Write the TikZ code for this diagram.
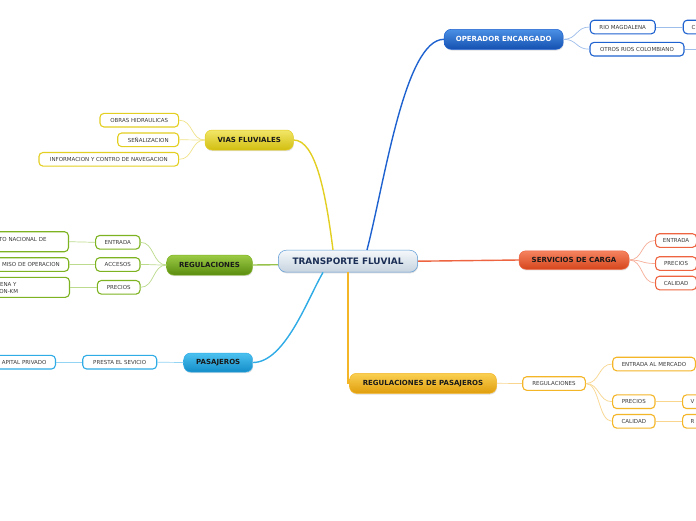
\documentclass[tikz,border=0pt]{standalone}
\usepackage{fontspec}
\setmainfont{DejaVu Sans}
\usetikzlibrary{shadows}
\definecolor{subtxt}{HTML}{3A3A3A}
\definecolor{bluB}{HTML}{1E62D0}
\definecolor{bluT}{HTML}{4A90E6}
\definecolor{bluD}{HTML}{1450B0}
\definecolor{bluL}{HTML}{9DBDEB}
\definecolor{yelB}{HTML}{E3CF22}
\definecolor{yelT}{HTML}{F2E668}
\definecolor{yelD}{HTML}{D2BE10}
\definecolor{yelL}{HTML}{F0E38A}
\definecolor{grnB}{HTML}{7DB320}
\definecolor{grnT}{HTML}{9CCB45}
\definecolor{grnD}{HTML}{5A8C0E}
\definecolor{grnL}{HTML}{BCDB8C}
\definecolor{skyB}{HTML}{2FABE6}
\definecolor{skyT}{HTML}{4CC2F0}
\definecolor{skyD}{HTML}{138CC8}
\definecolor{skyL}{HTML}{93D3F3}
\definecolor{redB}{HTML}{EE6440}
\definecolor{redT}{HTML}{F58360}
\definecolor{redD}{HTML}{D6461C}
\definecolor{redL}{HTML}{F6AE98}
\definecolor{orgB}{HTML}{F4B526}
\definecolor{orgT}{HTML}{FAD052}
\definecolor{orgD}{HTML}{E09E0C}
\definecolor{orgL}{HTML}{F8D68E}
\definecolor{cenB}{HTML}{5C9BD6}
\definecolor{cenT}{HTML}{F5F8FB}
\definecolor{cenD}{HTML}{C6D3DF}
\definecolor{cenTxt}{HTML}{1B2E55}
\tikzset{
  mainnode/.style={rounded corners=7pt, inner sep=0pt, draw, line width=0.5pt,
    font=\fontsize{7}{8}\selectfont\bfseries,
    drop shadow={opacity=0.25, shadow xshift=0.5pt, shadow yshift=-1.2pt}},
  subnode/.style={rounded corners=4pt, inner sep=0pt, draw, fill=white, line width=1.1pt,
    font=\fontsize{5.5}{6.2}\selectfont, text=subtxt, minimum height=13.6pt},
  cuttext/.style={font=\fontsize{5.5}{6.2}\selectfont, text=subtxt, inner sep=0pt},
  link/.style={line width=0.7pt},
  trunk/.style={line width=1.4pt},
}
\begin{document}
\begin{tikzpicture}[x=1pt,y=-1pt]
\path[use as bounding box] (0,0) rectangle (696,520);
\clip (0,0) rectangle (696,520);
\fill[white] (0,0) rectangle (696,520);

% centre
\node[mainnode, draw=cenB, top color=cenT, bottom color=cenD, text=cenTxt,
  minimum width=139.4pt, minimum height=22pt, rounded corners=8pt,
  font=\fontsize{8.9}{10}\selectfont\bfseries] (c) at (348,261.2) {TRANSPORTE FLUVIAL};

% main branches
\node[mainnode, draw=bluB, top color=bluT, bottom color=bluD, text=white,
  minimum width=119pt, minimum height=20pt] (op) at (503.7,39.3) {OPERADOR ENCARGADO};
\node[mainnode, draw=yelB, top color=yelT, bottom color=yelD, text=black!90,
  minimum width=88.3pt, minimum height=20pt] (vias) at (249.2,140) {VIAS FLUVIALES};
\node[mainnode, draw=grnB, top color=grnT, bottom color=grnD, text=black!90,
  minimum width=85.6pt, minimum height=20pt] (reg) at (209.5,265) {REGULACIONES};
\node[mainnode, draw=skyB, top color=skyT, bottom color=skyD, text=black!90,
  minimum width=69pt, minimum height=19pt] (pas) at (218.2,362.5) {PASAJEROS};
\node[mainnode, draw=redB, top color=redT, bottom color=redD, text=black!90,
  minimum width=110pt, minimum height=18.5pt] (serv) at (574,260) {SERVICIOS DE CARGA};
\node[mainnode, draw=orgB, top color=orgT, bottom color=orgD, text=black!90,
  minimum width=147pt, minimum height=20pt] (rdp) at (423,383.3) {REGULACIONES DE PASAJEROS};

% blue children
\node[subnode, draw=bluB, minimum width=65pt] (rm) at (622.7,27) {RIO MAGDALENA};
\node[subnode, draw=bluB, minimum width=94pt] (oc) at (637,49.2) {OTROS RIOS COLOMBIANO};
\node[subnode, draw=bluB, minimum width=40pt, anchor=west] (cbox) at (682.7,27) {};
\node[cuttext, anchor=west] (ctxt) at (691.5,27) {C};
\coordinate (offR) at (702,49.2);

% yellow children
\node[subnode, draw=yelB, minimum width=78.7pt] (obras) at (139.3,120.2) {OBRAS HIDRAULICAS};
\node[subnode, draw=yelB, minimum width=61pt] (senal) at (148.2,139.8) {SEÑALIZACION};
\node[subnode, draw=yelB, minimum width=139.7pt] (info) at (108.8,159.3) {INFORMACION Y CONTRO DE NAVEGACION};

% green children
\node[subnode, draw=grnB, minimum width=44.3pt] (ent) at (117.8,242.3) {ENTRADA};
\node[subnode, draw=grnB, minimum width=44.3pt] (acc) at (117.8,264.5) {ACCESOS};
\node[subnode, draw=grnB, minimum width=42.7pt] (pre) at (118.7,287.3) {PRECIOS};
\node[subnode, draw=grnB, minimum width=110pt, minimum height=20pt, anchor=east] (inv) at (69,241.7) {};
\node[cuttext, anchor=east] (invt) at (46.7,239) {TO NACIONAL DE};
\node[subnode, draw=grnB, minimum width=110pt, anchor=east] (per) at (69.3,264.5) {};
\node[cuttext, anchor=east] (pert) at (60,264.5) {MISO DE OPERACION};
\node[subnode, draw=grnB, minimum width=110pt, minimum height=20pt, anchor=east] (tar) at (70,287.3) {};
\node[cuttext, anchor=east] (tar1) at (16.7,284.4) {ENA Y};
\node[cuttext, anchor=east] (tar2) at (18.3,291) {ON-KM};

% sky children
\node[subnode, draw=skyB, minimum width=74pt] (pres) at (119.7,362.2) {PRESTA EL SEVICIO};
\node[subnode, draw=skyB, minimum width=110pt, anchor=east] (cap) at (56,362.2) {};
\node[cuttext, anchor=east] (capt) at (46.7,362.2) {APITAL PRIVADO};

% red children
\node[subnode, draw=redB, minimum width=41pt, anchor=west] (oent) at (655,240.5) {ENTRADA};
\node[subnode, draw=redB, minimum width=41pt, anchor=west] (opre) at (655,263.5) {PRECIOS};
\node[subnode, draw=redB, minimum width=41pt, anchor=west] (ocal) at (655,283) {CALIDAD};

% orange children
\node[subnode, draw=orgB, minimum width=62.6pt] (rsm) at (554,383.5) {REGULACIONES};
\node[subnode, draw=orgB, minimum width=82.6pt] (ment) at (654,364) {ENTRADA AL MERCADO};
\node[subnode, draw=orgB, minimum width=42.3pt] (mpre) at (633.8,401.7) {PRECIOS};
\node[subnode, draw=orgB, minimum width=42.3pt] (mcal) at (633.8,421.3) {CALIDAD};
\node[subnode, draw=orgB, minimum width=40pt, anchor=west] (vbox) at (682,401.7) {};
\node[cuttext, anchor=west] (vtxt) at (690.5,401.7) {V};
\node[subnode, draw=orgB, minimum width=40pt, anchor=west] (rbox) at (682,421.3) {};
\node[cuttext, anchor=west] (rtxt) at (690.5,421.3) {R};

% trunks
\draw[trunk, bluB] ([xshift=19pt]c.north) .. controls (385,180) and (405,39.3) .. (op.west);
\draw[trunk, yelB] ([xshift=-15pt]c.north) .. controls (326,195) and (316,140) .. (vias.east);
\draw[trunk, grnB!80] ([yshift=-3.5pt]c.west) -- (reg.east);
\draw[trunk, skyB] ([xshift=-25pt]c.south) .. controls (308,298) and (285,362.5) .. (pas.east);
\draw[trunk, redB] (c.east) -- (serv.west);
\draw[trunk, orgB] (c.south) |- (rdp.west);

% links
\foreach \t in {rm,oc} \draw[link, bluL] (op.east) .. controls +(14,0) and +(-14,0) .. (\t.west);
\draw[link, bluL] (rm.east) -- (cbox.west);
\draw[link, bluL] (oc.east) -- (offR);
\foreach \t in {obras,senal,info} \draw[link, yelL] (vias.west) .. controls +(-14,0) and +(14,0) .. (\t.east);
\foreach \t in {ent,acc,pre} \draw[link, grnL] (reg.west) .. controls +(-14,0) and +(14,0) .. (\t.east);
\draw[link, grnL] (ent.west) -- (inv.east);
\draw[link, grnL] (acc.west) -- (per.east);
\draw[link, grnL] (pre.west) -- (tar.east);
\draw[link, skyL] (pas.west) -- (pres.east);
\draw[link, skyL] (pres.west) -- (cap.east);
\foreach \t in {oent,opre,ocal} \draw[link, redL] (serv.east) .. controls +(14,0) and +(-14,0) .. (\t.west);
\draw[link, orgL] (rdp.east) -- (rsm.west);
\foreach \t in {ment,mpre,mcal} \draw[link, orgL] (rsm.east) .. controls +(14,0) and +(-14,0) .. (\t.west);
\draw[link, orgL] (mpre.east) -- (vbox.west);
\draw[link, orgL] (mcal.east) -- (rbox.west);
\end{tikzpicture}
\end{document}
